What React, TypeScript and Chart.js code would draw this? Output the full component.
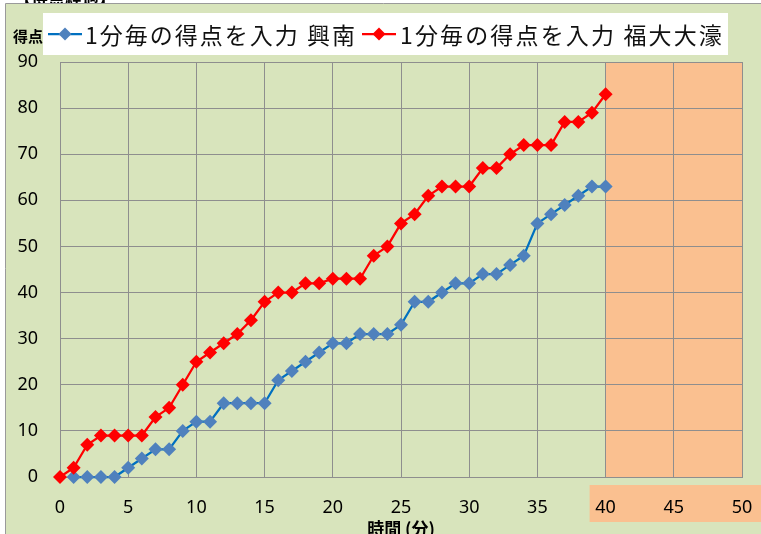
import { useEffect, useRef } from "react";
import { Chart, registerables } from "chart.js";

Chart.register(...registerables);

const minutes = [0, 1, 2, 3, 4, 5, 6, 7, 8, 9, 10, 11, 12, 13, 14, 15, 16, 17, 18, 19, 20, 21, 22, 23, 24, 25, 26, 27, 28, 29, 30, 31, 32, 33, 34, 35, 36, 37, 38, 39, 40];
const kounanScores = [null, 0, 0, 0, 0, 2, 4, 6, 6, 10, 12, 12, 16, 16, 16, 16, 21, 23, 25, 27, 29, 29, 31, 31, 31, 33, 38, 38, 40, 42, 42, 44, 44, 46, 48, 55, 57, 59, 61, 63, 63];
const ohoriScores = [0, 2, 7, 9, 9, 9, 9, 13, 15, 20, 25, 27, 29, 31, 34, 38, 40, 40, 42, 42, 43, 43, 43, 48, 50, 55, 57, 61, 63, 63, 63, 67, 67, 70, 72, 72, 72, 77, 77, 79, 83];
const seriesNames = ["1分毎の得点を入力 興南", "1分毎の得点を入力 福大大濠"];
const sheetTitle = "【得点経過】";
const xTitle = "時間 (分)";
const yTitle = "得点";
const xMin = 0, xMax = 50, xStep = 5;
const yMin = 0, yMax = 90, yStep = 10;
const overtimeStart = 40;

const GREEN = "#d8e4bc";
const ORANGE = "#fac090";
const GRID = "#8e8e8e";
const BLUE_LINE = "#0070c0";
const BLUE_MARK = "#4f81bd";
const RED = "#ff0000";
const TICK_FONT = "'Noto Sans', 'Open Sans', sans-serif";
const CJK_FONT = "'Noto Sans CJK JP', 'Noto Sans', sans-serif";

function diamond(ctx: CanvasRenderingContext2D, x: number, y: number, r: number, color: string) {
  ctx.beginPath();
  ctx.moveTo(x, y - r);
  ctx.lineTo(x + r, y);
  ctx.lineTo(x, y + r);
  ctx.lineTo(x - r, y);
  ctx.closePath();
  ctx.fillStyle = color;
  ctx.fill();
}

const decorPlugin = {
  id: "decor",
  beforeDraw(chart: any) {
    const ctx: CanvasRenderingContext2D = chart.ctx;
    const { width, height, chartArea } = chart;
    const xs = chart.scales.x;
    ctx.save();
    ctx.fillStyle = "#ffffff";
    ctx.fillRect(0, 0, width, height);
    ctx.fillStyle = "#000";
    ctx.font = `bold 17px ${CJK_FONT}`;
    ctx.textBaseline = "ideographic";
    ctx.textAlign = "left";
    ctx.fillText(sheetTitle, 14, 6);
    ctx.fillStyle = GREEN;
    ctx.fillRect(6, 4, width - 6, height - 4);
    ctx.strokeStyle = "#9a9a9a";
    ctx.lineWidth = 1;
    ctx.beginPath();
    ctx.moveTo(5.5, height);
    ctx.lineTo(5.5, 3.5);
    ctx.lineTo(width, 3.5);
    ctx.stroke();
    const ox = xs.getPixelForValue(overtimeStart);
    const ex = xs.getPixelForValue(xMax);
    ctx.fillStyle = ORANGE;
    ctx.fillRect(ox, chartArea.top, ex - ox, chartArea.bottom - chartArea.top);
    ctx.fillRect(ox - 16, chartArea.bottom + 8, width - (ox - 16), 37);
    ctx.fillStyle = "#000";
    ctx.font = `bold 15px ${CJK_FONT}`;
    ctx.textBaseline = "middle";
    ctx.fillText(yTitle, 13, 36);
    ctx.restore();
  },
  afterDraw(chart: any) {
    const ctx: CanvasRenderingContext2D = chart.ctx;
    const { chartArea } = chart;
    ctx.save();
    ctx.fillStyle = "#000";
    ctx.font = `bold 17px ${CJK_FONT}`;
    ctx.textAlign = "center";
    ctx.textBaseline = "middle";
    ctx.fillText(xTitle, (chartArea.left + chartArea.right) / 2, 529);
    const boxL = 43, boxT = 13, boxR = 728, boxB = 55;
    ctx.fillStyle = "#ffffff";
    ctx.fillRect(boxL, boxT, boxR - boxL, boxB - boxT);
    const cy = 34;
    const items = [
      { name: seriesNames[0], line: BLUE_LINE, mark: BLUE_MARK, x0: 48, x1: 82, tx: 85, tw: 272 },
      { name: seriesNames[1], line: RED, mark: RED, x0: 362, x1: 396, tx: 400, tw: 324 },
    ];
    ctx.font = `23px ${CJK_FONT}`;
    ctx.textAlign = "left";
    ctx.textBaseline = "middle";
    for (const it of items) {
      ctx.strokeStyle = it.line;
      ctx.lineWidth = 2.25;
      ctx.beginPath();
      ctx.moveTo(it.x0, cy);
      ctx.lineTo(it.x1, cy);
      ctx.stroke();
      diamond(ctx, (it.x0 + it.x1) / 2, cy, 6.5, it.mark);
      (ctx as any).letterSpacing = "0px";
      const natural = ctx.measureText(it.name).width;
      const n = Array.from(it.name).length;
      const ls = (it.tw - natural) / n;
      (ctx as any).letterSpacing = `${ls}px`;
      ctx.fillStyle = "#111";
      ctx.fillText(it.name, it.tx, cy + 1);
      (ctx as any).letterSpacing = "0px";
    }
    ctx.restore();
  },
};

export default function App() {
  const ref = useRef<HTMLCanvasElement>(null);
  useEffect(() => {
    document.body.style.margin = "0";
    const tickFont = { family: TICK_FONT, size: 18 };
    const chart = new Chart(ref.current!, {
      type: "line",
      data: {
        datasets: [
          {
            label: seriesNames[1],
            data: minutes.map((m, i) => ({ x: m, y: ohoriScores[i] })),
            borderColor: RED,
            backgroundColor: RED,
            pointBackgroundColor: RED,
            pointBorderColor: RED,
            pointStyle: "rectRot",
            pointRadius: 7,
            pointBorderWidth: 0,
            borderWidth: 2.25,
            clip: false,
            order: 0,
          },
          {
            label: seriesNames[0],
            data: minutes.map((m, i) => ({ x: m, y: kounanScores[i] })),
            borderColor: BLUE_LINE,
            backgroundColor: BLUE_MARK,
            pointBackgroundColor: BLUE_MARK,
            pointBorderColor: BLUE_MARK,
            pointStyle: "rectRot",
            pointRadius: 7,
            pointBorderWidth: 0,
            borderWidth: 2.25,
            clip: false,
            order: 1,
          },
        ],
      },
      options: {
        responsive: false,
        animation: false,
        layout: { padding: { left: 0, top: 62, right: 19, bottom: 0 } },
        plugins: { legend: { display: false }, tooltip: { enabled: false } },
        scales: {
          x: {
            type: "linear",
            min: xMin,
            max: xMax,
            ticks: { stepSize: xStep, padding: 20, color: "#000", font: tickFont, maxRotation: 0 },
            grid: { color: GRID, drawTicks: false, lineWidth: 1 },
            border: { color: GRID },
            afterFit: (s: any) => { s.height = 57; s.paddingLeft = 0; s.paddingRight = 0; },
          },
          y: {
            type: "linear",
            min: yMin,
            max: yMax,
            ticks: { stepSize: yStep, padding: 22, color: "#000", font: tickFont },
            grid: { color: GRID, drawTicks: false, lineWidth: 1 },
            border: { color: GRID },
            afterFit: (s: any) => { s.width = 60; s.paddingTop = 0; s.paddingBottom = 0; },
          },
        },
      } as any,
      plugins: [decorPlugin],
    });
    return () => chart.destroy();
  }, []);
  return (
    <div style={{ position: "fixed", left: 0, top: 0 }}>
      <canvas ref={ref} width={761} height={534} style={{ width: 761, height: 534, display: "block" }} />
    </div>
  );
}
